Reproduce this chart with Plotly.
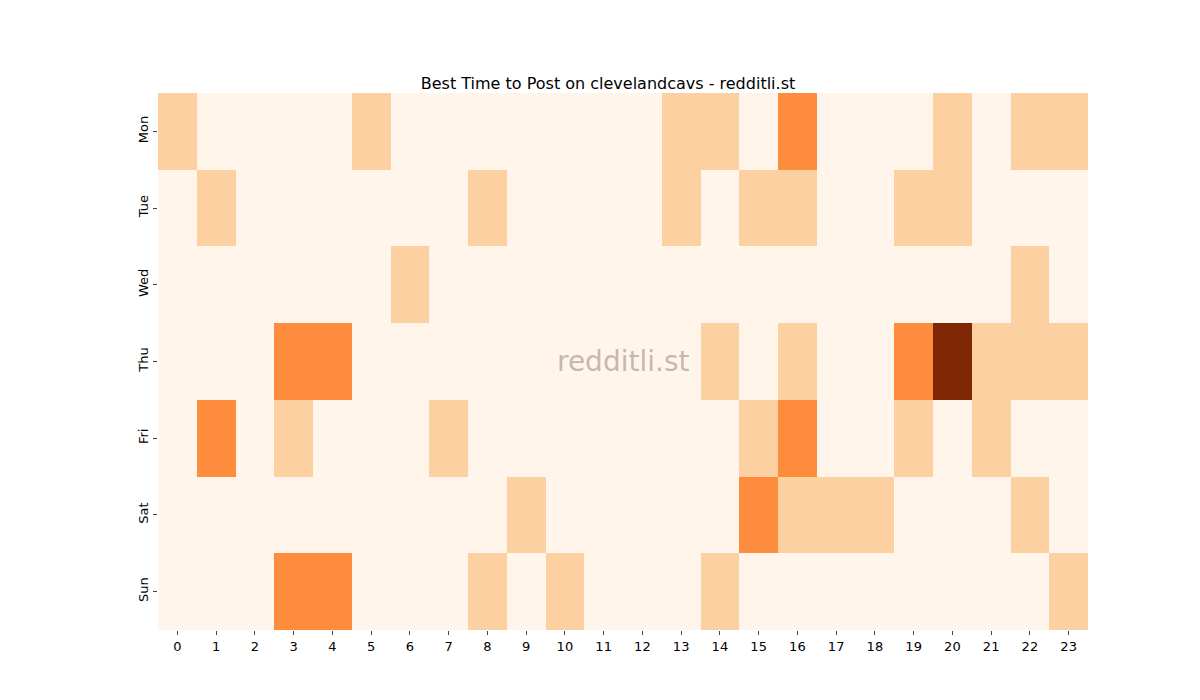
import plotly.graph_objects as go

days = ["Mon", "Tue", "Wed", "Thu", "Fri", "Sat", "Sun"]
hours = list(range(24))
mon = [1,0,0,0,0,1,0,0,0,0,0,0,0,1,1,0,2,0,0,0,1,0,1,1]
tue = [0,1,0,0,0,0,0,0,1,0,0,0,0,1,0,1,1,0,0,1,1,0,0,0]
wed = [0,0,0,0,0,0,1,0,0,0,0,0,0,0,0,0,0,0,0,0,0,0,1,0]
thu = [0,0,0,2,2,0,0,0,0,0,0,0,0,0,1,0,1,0,0,2,3,1,1,1]
fri = [0,2,0,1,0,0,0,1,0,0,0,0,0,0,0,1,2,0,0,1,0,1,0,0]
sat = [0,0,0,0,0,0,0,0,0,1,0,0,0,0,0,2,1,1,1,0,0,0,1,0]
sun = [0,0,0,2,2,0,0,0,1,0,1,0,0,0,1,0,0,0,0,0,0,0,0,1]
z = [mon, tue, wed, thu, fri, sat, sun]

fig = go.Figure(go.Heatmap(
    z=z, x=hours, y=days, zmin=0, zmax=3, showscale=False,
    colorscale=[[0, "#fff5eb"], [1/3, "#fdd0a2"], [2/3, "#fd8d3c"], [1, "#7f2704"]],
))
fig.update_layout(
    width=1200, height=700, paper_bgcolor="white", plot_bgcolor="white",
    margin=dict(l=150, r=120, t=85, b=78),
    title=dict(text="Best Time to Post on clevelandcavs - redditli.st", x=0.5, y=0.9,
               xanchor="center", font=dict(family="DejaVu Sans", size=16, color="black")),
    font=dict(family="DejaVu Sans", size=13, color="black"),
    xaxis=dict(tickmode="array", tickvals=hours, ticks="outside", ticklen=4, showgrid=False, zeroline=False),
    yaxis=dict(autorange="reversed", ticks="outside", ticklen=4, tickangle=-90, showgrid=False, zeroline=False),
    annotations=[dict(text="redditli.st", x=0.5, y=0.5, xref="paper", yref="paper", showarrow=False,
                      font=dict(family="DejaVu Sans", size=28, color="rgba(150,130,120,0.55)"))],
)
fig.write_html("out.html")
